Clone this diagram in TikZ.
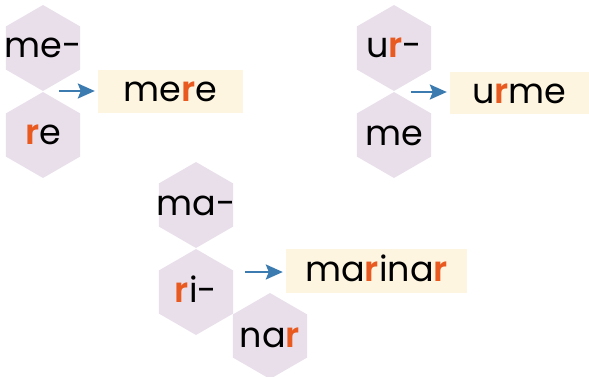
\documentclass[tikz,border=0pt]{standalone}
\usepackage{fontspec}
\setmainfont{Poppins}[BoldFont={Poppins SemiBold}]
\usetikzlibrary{shapes.geometric,arrows.meta}
\definecolor{hexfill}{HTML}{E9DFEB}
\definecolor{boxfill}{HTML}{FDF5E0}
\definecolor{rcol}{HTML}{E85A1F}
\definecolor{arrcol}{HTML}{3B7BB0}
\newcommand{\rr}[1]{\textcolor{rcol}{\bfseries #1}}
\tikzset{
  hexcell/.style={regular polygon, regular polygon sides=6, shape border rotate=30,
    minimum size=86pt, inner sep=0pt, fill=hexfill, draw=none},
  word/.style={font=\fontsize{35}{40}\selectfont, inner sep=0pt, anchor=base},
  result/.style={fill=boxfill, inner sep=0pt, draw=none},
  goes/.style={arrcol, line width=2.2pt, shorten >=3pt, -{Stealth[length=17pt,width=15pt,inset=3pt]}}
}
\begin{document}
\begin{tikzpicture}[x=1pt,y=-1pt]
\useasboundingbox (0,0) rectangle (589,376);
\clip (0,0) rectangle (589,376);
% group 1
\node[hexcell] (h1) at (43,48) {};
\node[hexcell] (h2) at (43,135) {};
\node[word] (t1) at (43,57) {me-};
\node[word] (t2) at (43,144) {\rr{r}e};
\node[result, minimum width=145pt, minimum height=43pt] (b1) at (170.5,91.5) {};
\node[word] (bt1) at (170.5,101.5) {me\rr{r}e};
\coordinate (a1s) at (59,91);
\draw[goes] (a1s) -- (b1.west |- a1s);
% group 2
\node[hexcell] (h3) at (394,48) {};
\node[hexcell] (h4) at (394,135) {};
\node[word] (t3) at (394,57) {u\rr{r}-};
\node[word] (t4) at (394,145) {me};
\node[result, minimum width=139pt, minimum height=42pt] (b2) at (519.5,93) {};
\node[word] (bt2) at (519.5,103) {u\rr{r}me};
\coordinate (a2s) at (411,92);
\draw[goes] (a2s) -- (b2.west |- a2s);
% group 3
\node[hexcell] (h5) at (196,205) {};
\node[hexcell] (h6) at (196,292) {};
\node[hexcell] (h7) at (270,336) {};
\node[word] (t5) at (196,215) {ma-};
\node[word] (t6) at (196,302) {\rr{r}i-};
\node[word] (t7) at (270,347) {na\rr{r}};
\node[result, minimum width=181pt, minimum height=44pt] (b3) at (376.5,271) {};
\node[word] (bt3) at (376.5,281) {ma\rr{r}ina\rr{r}};
\coordinate (a3s) at (245,272);
\draw[goes] (a3s) -- (b3.west |- a3s);
\end{tikzpicture}
\end{document}
